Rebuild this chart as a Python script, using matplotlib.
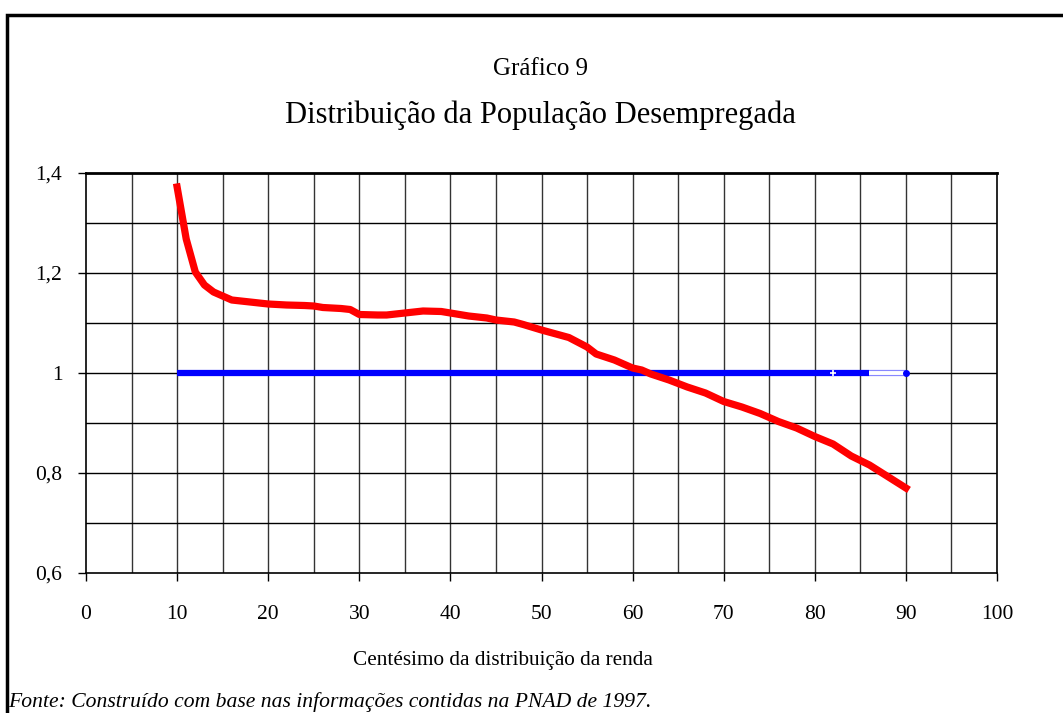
import matplotlib.pyplot as plt
from matplotlib.patches import Rectangle

plt.rcParams['font.family'] = ['Liberation Serif', 'DejaVu Serif']

# red curve: centesimo x relative value
centesimo = [10, 11, 12, 13, 14, 15, 16, 18, 20, 22, 24, 25, 26, 28, 29, 30, 32, 33, 35,
             37, 39, 40, 42, 44, 45, 47, 48, 50, 52, 53, 55, 56, 58, 60, 61, 62, 64, 66,
             68, 70, 72, 74, 76, 78, 80, 82, 84, 86, 88, 90]
desempregada = [1.372, 1.268, 1.202, 1.176, 1.162, 1.154, 1.146, 1.142, 1.138, 1.136, 1.135,
                1.134, 1.131, 1.129, 1.127, 1.117, 1.116, 1.116, 1.12, 1.124, 1.123, 1.12,
                1.114, 1.11, 1.106, 1.102, 1.097, 1.086, 1.076, 1.071, 1.052, 1.038, 1.026,
                1.01, 1.006, 0.998, 0.986, 0.972, 0.96, 0.943, 0.932, 0.919, 0.903, 0.89,
                0.873, 0.858, 0.834, 0.816, 0.793, 0.77]

# reference line at 1
ref_x = [10, 86]
ref_y = [1, 1]
ref_tail_x = [86, 90]
ref_tail_y = [1, 1]

xticks = [0, 10, 20, 30, 40, 50, 60, 70, 80, 90, 100]
yticks = [0.6, 0.8, 1.0, 1.2, 1.4]
ylabels = ['0,6', '0,8', '1', '1,2', '1,4']

fig = plt.figure(figsize=(10.63, 7.13), dpi=100)

# outer frame (only left and top edges visible)
fig.patches.append(Rectangle((7 / 1063, -0.1), 1.2, 1 - 15 / 713 + 0.1, transform=fig.transFigure,
                             fill=False, edgecolor='black', linewidth=2.5, zorder=0))

ax = fig.add_axes([86 / 1063, 1 - 573 / 713, (997 - 86) / 1063, 400 / 713])
ax.set_xlim(0, 100)
ax.set_ylim(0.6, 1.4)

# grid
for gx in range(5, 100, 5):
    ax.axvline(gx, color='#333333', linewidth=1.0, zorder=1)
for gy in [0.7, 0.8, 0.9, 1.0, 1.1, 1.2, 1.3]:
    ax.axhline(gy, color='black', linewidth=1.0, zorder=1)

ax.plot(ref_tail_x, ref_tail_y, color='#8888ff', linewidth=4.5, solid_capstyle='butt', zorder=3)
ax.plot(ref_tail_x, ref_tail_y, color='white', linewidth=2.8, solid_capstyle='butt', zorder=3)
ax.plot(ref_x, ref_y, color='#0000ff', linewidth=4.5, solid_capstyle='butt', zorder=3)
ax.plot([82], [1], marker='+', color='white', markersize=5, markeredgewidth=1.2, zorder=4)
ax.plot([90], [1], marker='o', color='#0000ff', markersize=4, zorder=4)

ax.plot(centesimo, desempregada, color='#ff0000', linewidth=5.2, solid_joinstyle='round', zorder=5)

ax.set_xticks(xticks)
ax.set_yticks(yticks)
ax.set_yticklabels(ylabels)
ax.tick_params(axis='both', labelsize=15.5, length=6, width=1, direction='out', colors='black')
ax.tick_params(axis='x', pad=17)
ax.tick_params(axis='y', pad=11)
for s in ax.spines.values():
    s.set_linewidth(1.2)
ax.spines['top'].set_linewidth(2)

fig.text(503 / 1063, 1 - 660 / 713, 'Centésimo da distribuição da renda', ha='center', va='center', fontsize=15.3)
fig.text(0.508, 1 - 69 / 713, 'Gráfico 9', ha='center', va='center', fontsize=18)
fig.text(0.508, 1 - 115 / 713, 'Distribuição da População Desempregada', ha='center', va='center', fontsize=22)
fig.text(8 / 1063, 1 - 702 / 713, 'Fonte: Construído com base nas informações contidas na PNAD de 1997.',
         ha='left', va='center', fontsize=15.6, style='italic')

fig.savefig('out.png', dpi=100, facecolor='white')
